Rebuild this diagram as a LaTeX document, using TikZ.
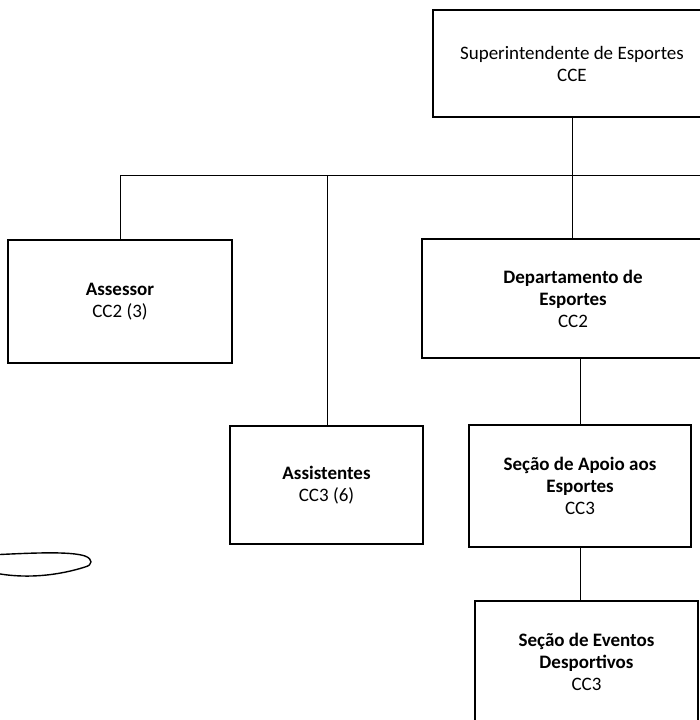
\documentclass[tikz,border=0pt]{standalone}
\usepackage{fontspec}
\setmainfont{Carlito}
\begin{document}
\begin{tikzpicture}[x=1pt,y=-1pt,
  orgbox/.style={draw=black,line width=1.8pt,align=center,inner sep=0pt,
    font=\fontsize{19}{22}\selectfont},
  conn/.style={draw=black,line width=1pt}]
\useasboundingbox (0,0) rectangle (700,720);
\clip (0,0) rectangle (700,720);
\fill[white] (0,0) rectangle (700,720);

\node[orgbox,minimum width=278pt,minimum height=107pt] (top) at (572,63.5)
  {Superintendente de Esportes\\CCE};
\node[orgbox,minimum width=224pt,minimum height=123pt] (assessor) at (120,301.5)
  {\textbf{Assessor}\\CC2 (3)};
\node[orgbox,minimum width=302pt,minimum height=119pt] (dept) at (573,298.5)
  {\textbf{Departamento de}\\\textbf{Esportes}\\CC2};
\node[orgbox,minimum width=193pt,minimum height=118pt] (assist) at (326.5,485)
  {\textbf{Assistentes}\\CC3 (6)};
\node[orgbox,minimum width=222pt,minimum height=122pt] (apoio) at (580,486)
  {\textbf{Seção de Apoio aos}\\\textbf{Esportes}\\CC3};
\node[orgbox,minimum width=223pt,minimum height=122pt] (eventos) at (586.5,662)
  {\textbf{Seção de Eventos}\\\textbf{Desportivos}\\CC3};

\coordinate (hL) at (120,175);
\coordinate (hA) at (327,175);
\coordinate (hM) at (572,175);
\coordinate (hR) at (705,175);

\draw[conn] (top.south) -- (hM);
\draw[conn] (hL) -- (hR);
\draw[conn] (hL) -- (assessor.north);
\draw[conn] (hA) -- (hA |- assist.north);
\draw[conn] (hM) -- (hM |- dept.north);
\draw[conn] (apoio.north |- dept.south) -- (apoio.north);
\draw[conn] (apoio.south) -- (apoio.south |- eventos.north);

% stray ellipse at left
\draw[line width=1.4pt] (-10,555) .. controls (30,553) and (70,551) .. (85,556)
  .. controls (93,559) and (93,565) .. (85,567)
  .. controls (60,575) and (25,580) .. (-10,572);
\end{tikzpicture}
\end{document}
